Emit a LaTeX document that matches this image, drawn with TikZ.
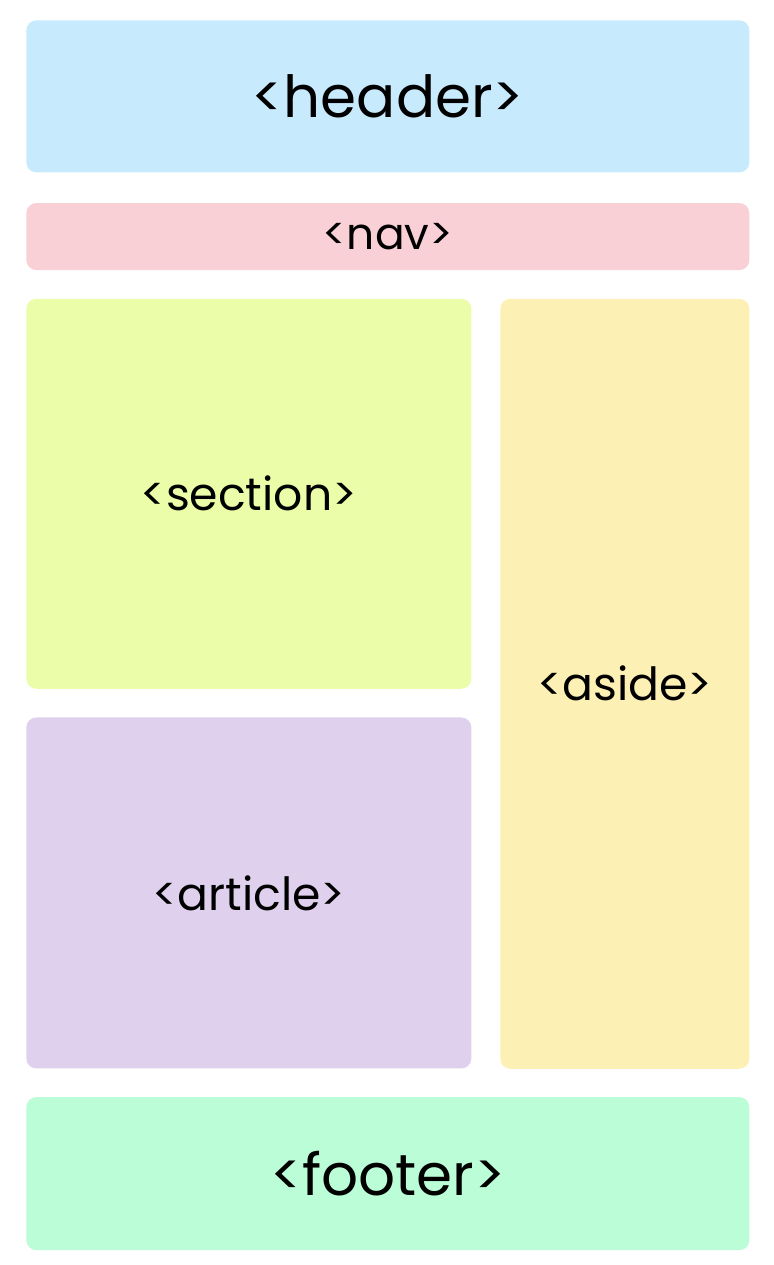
\documentclass[tikz,border=0pt]{standalone}
\usepackage{fontspec}
\setmainfont{Poppins}
\usetikzlibrary{positioning}
\usepackage{xcolor}
\definecolor{headerblue}{HTML}{C8EAFD}
\definecolor{navpink}{HTML}{F9D0D6}
\definecolor{sectionlime}{HTML}{EBFDA8}
\definecolor{asideyellow}{HTML}{FDF0B4}
\definecolor{articlelilac}{HTML}{DFD0EE}
\definecolor{footermint}{HTML}{BBFDD6}

\begin{document}
\begin{tikzpicture}[
    node distance=0.56cm,
    block/.style={rounded corners=0.2cm, inner sep=0pt, align=center, text=black},
    bigtag/.style={font=\fontsize{33}{39}\selectfont},
    tag/.style={font=\fontsize{26}{31}\selectfont},
    smalltag/.style={font=\fontsize{25}{30}\selectfont},
]

% Header
\node[block, bigtag, fill=headerblue, minimum width=14.46cm, minimum height=3.04cm] (header) {<header>};

% Nav bar
\node[block, smalltag, fill=navpink, minimum width=14.46cm, minimum height=1.34cm,
    below=0.6cm of header] (nav) {<nav>};

% Main column
\node[block, tag, fill=sectionlime, minimum width=8.9cm, minimum height=7.8cm,
    below=of nav.south west, anchor=north west] (section) {<section>};

\node[block, tag, fill=articlelilac, minimum width=8.9cm, minimum height=7.02cm,
    below=of section.south west, anchor=north west] (article) {<article>};

% Sidebar
\node[block, tag, fill=asideyellow, minimum width=4.98cm, minimum height=15.4cm,
    below=of nav.south east, anchor=north east] (aside) {<aside>};

% Footer
\node[block, bigtag, fill=footermint, minimum width=14.46cm, minimum height=3.06cm,
    below=of article.south west, anchor=north west] (footer) {<footer>};

\useasboundingbox ([shift={(-0.52cm,0.4cm)}]header.north west) rectangle ++(15.46cm,-25.3cm);

\end{tikzpicture}
\end{document}
